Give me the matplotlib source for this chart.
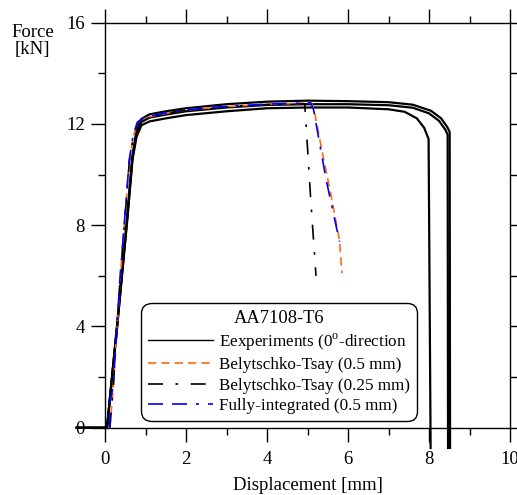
import matplotlib
matplotlib.use('Agg')
import matplotlib.pyplot as plt

plt.rcParams['font.family'] = ['Liberation Serif', 'DejaVu Serif']
plt.rcParams['mathtext.fontset'] = 'custom'
plt.rcParams['mathtext.rm'] = 'Liberation Serif'
plt.rcParams['font.size'] = 13.5

# experiments (three tests)
exp1_x = [-0.7, 0.0, 0.05, 0.30, 0.55, 0.68, 0.78, 0.90, 1.1, 1.5, 2.0, 3.0, 4.0, 5.0, 6.0, 7.0, 7.4, 7.7, 7.88, 7.99, 8.04]
exp1_y = [0.0, 0.0, 0.0, 4.0, 8.2, 10.6, 11.5, 11.95, 12.1, 12.22, 12.35, 12.5, 12.62, 12.65, 12.65, 12.58, 12.48, 12.22, 11.85, 11.4, -0.8]
exp2_x = [-0.7, 0.0, 0.05, 0.30, 0.55, 0.68, 0.78, 0.90, 1.1, 1.5, 2.0, 3.0, 4.0, 5.0, 6.0, 7.0, 7.6, 8.0, 8.25, 8.4, 8.46, 8.47]
exp2_y = [0.0, 0.0, 0.0, 4.0, 8.3, 10.7, 11.65, 12.08, 12.25, 12.37, 12.5, 12.65, 12.75, 12.78, 12.78, 12.74, 12.64, 12.42, 12.12, 11.78, 11.58, -0.8]
exp3_x = [-0.7, 0.0, 0.05, 0.30, 0.55, 0.68, 0.78, 0.90, 1.1, 1.5, 2.0, 3.0, 4.0, 5.0, 6.0, 7.0, 7.6, 8.05, 8.3, 8.45, 8.51, 8.52]
exp3_y = [0.0, 0.0, 0.0, 4.1, 8.4, 10.8, 11.75, 12.2, 12.38, 12.5, 12.62, 12.78, 12.88, 12.92, 12.9, 12.86, 12.76, 12.52, 12.22, 11.88, 11.68, -0.8]

# Belytschko-Tsay 0.5 mm
bt05_x = [0.12, 0.20, 0.37, 0.60, 0.70, 0.80, 0.92, 1.2, 1.6, 2.0, 2.5, 3.0, 3.5, 4.0, 4.5, 5.0, 5.10, 5.17, 5.40, 5.58, 5.79, 5.85]
bt05_y = [0.0, 1.5, 5.8, 10.5, 11.5, 12.02, 12.2, 12.32, 12.45, 12.55, 12.62, 12.68, 12.73, 12.77, 12.8, 12.82, 12.82, 12.5, 10.6, 9.2, 7.4, 6.1]
# Belytschko-Tsay 0.25 mm
bt025_x = [0.12, 0.20, 0.37, 0.60, 0.70, 0.80, 0.92, 1.2, 1.6, 2.0, 2.5, 3.0, 3.5, 4.0, 4.5, 4.93, 4.96, 5.08, 5.21]
bt025_y = [0.0, 1.5, 5.8, 10.5, 11.5, 12.02, 12.2, 12.32, 12.45, 12.55, 12.62, 12.68, 12.73, 12.77, 12.8, 12.8, 12.1, 9.0, 6.0]
# Fully-integrated 0.5 mm
fi05_x = [0.12, 0.12, 0.20, 0.37, 0.60, 0.70, 0.80, 0.92, 1.2, 1.6, 2.0, 2.5, 3.0, 3.5, 4.0, 4.5, 5.0, 5.08, 5.15, 5.46, 5.79]
fi05_y = [0.0, 1.0, 1.6, 5.9, 10.6, 11.6, 12.07, 12.22, 12.34, 12.47, 12.56, 12.63, 12.69, 12.74, 12.78, 12.81, 12.83, 12.83, 12.56, 9.8, 7.35]

fig = plt.figure(figsize=(5.17, 4.95), dpi=100)
ax = fig.add_axes([105/517, 1-427.7/495, 405/517, 405/495])

for xx, yy in [(exp1_x, exp1_y), (exp2_x, exp2_y), (exp3_x, exp3_y)]:
    ax.plot(xx, yy, color='black', lw=1.6, clip_on=False, zorder=2)
# thin handle for the legend
ax.plot([], [], color='black', lw=1.0, label='Eexperiments (0$^\\mathrm{o}$-direction')

ax.plot(bt05_x, bt05_y, color='#ff6a13', lw=1.2, ls=(0, (5, 3)), zorder=3,
        label='Belytschko-Tsay (0.5 mm)')
ax.plot(bt025_x, bt025_y, color='black', lw=1.2, ls=(0, (9, 7.5, 1.6, 7.5)), zorder=3,
        label='Belytschko-Tsay (0.25 mm)')
ax.plot(fi05_x, fi05_y, color='blue', lw=1.2, ls=(0, (9, 5.4, 9, 5.4, 1.8, 5.4)), zorder=3,
        label='Fully-integrated (0.5 mm)')

ax.set_xlim(0, 10)
ax.set_ylim(0, 16)
ax.set_xticks([0, 2, 4, 6, 8, 10])
ax.set_xticks([1, 3, 5, 7, 9], minor=True)
ax.set_yticks([0, 4, 8, 12, 16])
ax.set_yticks([2, 6, 10, 14], minor=True)
ax.tick_params(which='both', direction='out', top=True, right=True)
ax.tick_params(which='major', length=10, width=1)
ax.tick_params(which='minor', length=5, width=1)
ax.tick_params(axis='x', pad=7)
ax.tick_params(axis='y', pad=4.5)
for s in ax.spines.values():
    s.set_linewidth(1)

ax.set_xlabel('Displacement [mm]', labelpad=6)
fig.text(32.5/517, 1-41/495, 'Force\n[kN]', ha='center', va='center',
         multialignment='center', linespacing=1.0)

leg = ax.legend(title='AA7108-T6', loc='lower left', bbox_to_anchor=(0.09, 0.017),
                borderaxespad=0, handlelength=3.8, handletextpad=0.35,
                labelspacing=0.26, borderpad=0.4, framealpha=1, fancybox=True,
                fontsize=12.3, title_fontsize=13.3)
frame = leg.get_frame()
frame.set_edgecolor('black')
frame.set_linewidth(1)
frame.set_boxstyle('round', pad=0, rounding_size=0.6)

fig.savefig('out.png', dpi=100)
